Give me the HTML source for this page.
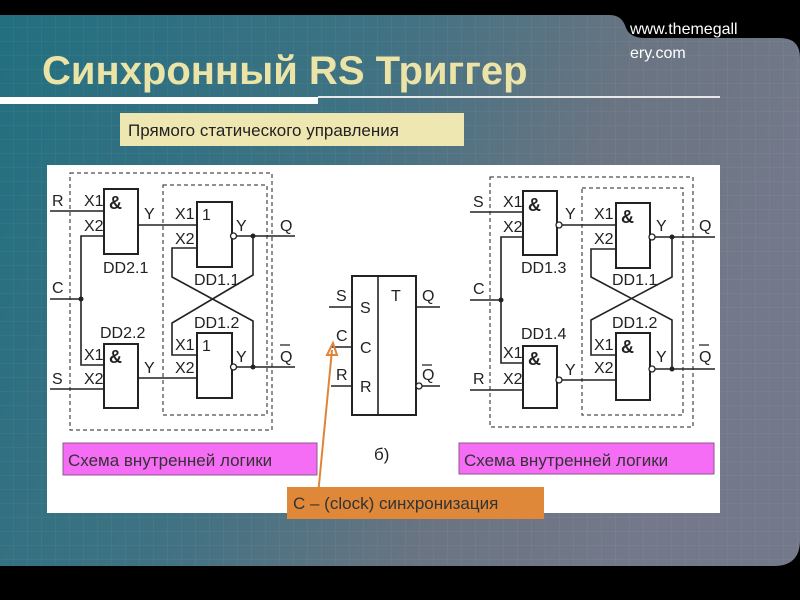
<!DOCTYPE html>
<html><head><meta charset="utf-8"><style>
html,body{margin:0;padding:0;background:#000;}
svg{display:block}
text{font-family:"Liberation Sans","DejaVu Sans",sans-serif;}
.n{font-family:"Liberation Sans Narrow","Liberation Sans",sans-serif;}
</style></head><body>
<svg width="800" height="600" viewBox="0 0 800 600" xmlns="http://www.w3.org/2000/svg">
<defs>
<linearGradient id="bg" x1="0" y1="0" x2="1" y2="0.3">
<stop offset="0" stop-color="#216f80"/><stop offset="0.45" stop-color="#3f7283"/><stop offset="0.75" stop-color="#6a7482"/><stop offset="1" stop-color="#73798a"/>
</linearGradient>
<pattern id="grid" width="14" height="14" patternUnits="userSpaceOnUse">
<path d="M14 0V14H0" fill="none" stroke="#ffffff" stroke-opacity="0.08" stroke-width="1"/>
</pattern>
</defs>
<rect width="800" height="600" fill="#000"/>
<path d="M0 15 H610 Q622 15 626 28 Q630 38 645 38 H780 Q800 38 800 58 V540 Q800 566 774 566 H0 Z" fill="url(#bg)"/>
<path d="M0 15 H610 Q622 15 626 28 Q630 38 645 38 H780 Q800 38 800 58 V540 Q800 566 774 566 H0 Z" fill="url(#grid)"/>
<text x="630" y="34" font-size="16" fill="#fff" class="n">www.themegall</text>
<text x="630" y="58" font-size="16" fill="#fff" class="n">ery.com</text>
<text x="42" y="84" font-size="40" font-weight="bold" fill="#ece4a6">Синхронный RS Триггер</text>
<rect x="0" y="97" width="318" height="7" fill="#fff"/>
<rect x="318" y="96" width="402" height="2" fill="#e8e8e8"/>
<rect x="120" y="113" width="344" height="33" fill="#efe7b2"/>
<text x="128" y="136" font-size="17" fill="#222">Прямого  статического управления</text>
<rect x="47" y="165" width="673" height="348" fill="#fff"/>

<g stroke="#222" fill="none" stroke-width="1.6">
<rect x="70" y="173" width="202" height="257" stroke-dasharray="4 3" stroke-width="1"/>
<rect x="163" y="185" width="104" height="230" stroke-dasharray="4 3" stroke-width="1"/>
<rect x="104" y="189" width="34" height="65" stroke-width="2"/>
<rect x="104" y="344" width="34" height="64" stroke-width="2"/>
<rect x="197" y="202" width="35" height="65" stroke-width="2"/>
<rect x="197" y="333" width="35" height="65" stroke-width="2"/>
<path d="M50 211H104M104 236H81V365H104M50 299H81M50 389H104M138 225H197M138 378H197"/>
<path d="M235 236H295M235 367H295M197 248H172V277L253 321V367M253 236V275L172 323V355H197"/>
<rect x="490" y="177" width="203" height="250" stroke-dasharray="4 3" stroke-width="1"/>
<rect x="582" y="188" width="101" height="227" stroke-dasharray="4 3" stroke-width="1"/>
<rect x="523" y="191" width="34" height="64" stroke-width="2"/>
<rect x="523" y="346" width="34" height="62" stroke-width="2"/>
<rect x="616" y="203" width="34" height="65" stroke-width="2"/>
<rect x="616" y="333" width="34" height="67" stroke-width="2"/>
<path d="M470 212H523M523 237H501V363H523M470 300H501M470 390H523M560 225H616M560 380H616"/>
<path d="M653 237H715M653 369H715M616 249H591V277L672 320V369M672 237V277L591 320V355H616"/>
<rect x="352" y="276" width="64" height="139" stroke-width="2"/>
<path d="M378 276V415M329 307H352M331 347H352M331 386H352M416 307H440M422 386H440"/>
</g>
<g fill="#fff" stroke="#222" stroke-width="1.3">
<circle cx="233.5" cy="236" r="3"/><circle cx="233.5" cy="367" r="3"/>
<circle cx="559" cy="225" r="3"/><circle cx="559" cy="380" r="3"/>
<circle cx="652" cy="237" r="3"/><circle cx="652" cy="369" r="3"/>
<circle cx="419" cy="386" r="3"/>
</g>
<g fill="#222">
<circle cx="81" cy="299" r="2.5"/><circle cx="253" cy="236" r="2.5"/><circle cx="253" cy="367" r="2.5"/>
<circle cx="501" cy="300" r="2.5"/><circle cx="672" cy="237" r="2.5"/><circle cx="672" cy="369" r="2.5"/>
</g>
<g font-size="16" fill="#222" class="n">
<text x="52" y="206" class="n">R</text><text x="84" y="206" class="n">X1</text><text x="84" y="231" class="n">X2</text><text x="109" y="209" font-size="18" font-weight="bold">&amp;</text>
<text x="144" y="219" class="n">Y</text><text x="175" y="219" class="n">X1</text><text x="175" y="244" class="n">X2</text><text x="202" y="220" class="n">1</text>
<text x="236" y="231" class="n">Y</text><text x="280" y="231" class="n">Q</text>
<text x="103" y="273" class="n">DD2.1</text><text x="52" y="293" class="n">C</text><text x="194" y="285" class="n">DD1.1</text>
<text x="194" y="328" class="n">DD1.2</text><text x="100" y="338" class="n">DD2.2</text>
<text x="84" y="360" class="n">X1</text><text x="84" y="384" class="n">X2</text><text x="109" y="363" font-size="18" font-weight="bold">&amp;</text>
<text x="52" y="384" class="n">S</text><text x="144" y="373" class="n">Y</text><text x="175" y="350" class="n">X1</text><text x="175" y="373" class="n">X2</text>
<text x="202" y="351" class="n">1</text><text x="236" y="362" class="n">Y</text><text x="280" y="362" class="n">Q</text>
<text x="473" y="207" class="n">S</text><text x="503" y="207" class="n">X1</text><text x="503" y="232" class="n">X2</text><text x="528" y="211" font-size="18" font-weight="bold">&amp;</text>
<text x="565" y="219" class="n">Y</text><text x="594" y="219" class="n">X1</text><text x="594" y="244" class="n">X2</text><text x="621" y="223" font-size="18" font-weight="bold">&amp;</text>
<text x="656" y="231" class="n">Y</text><text x="699" y="231" class="n">Q</text>
<text x="521" y="273" class="n">DD1.3</text><text x="473" y="294" class="n">C</text><text x="612" y="285" class="n">DD1.1</text>
<text x="612" y="328" class="n">DD1.2</text><text x="521" y="339" class="n">DD1.4</text>
<text x="503" y="358" class="n">X1</text><text x="503" y="384" class="n">X2</text><text x="528" y="365" font-size="18" font-weight="bold">&amp;</text>
<text x="473" y="384" class="n">R</text><text x="565" y="375" class="n">Y</text><text x="594" y="350" class="n">X1</text><text x="594" y="373" class="n">X2</text>
<text x="621" y="353" font-size="18" font-weight="bold">&amp;</text><text x="656" y="362" class="n">Y</text><text x="699" y="362" class="n">Q</text>
<text x="336" y="301" class="n">S</text><text x="360" y="313" class="n">S</text><text x="391" y="301" class="n">T</text><text x="422" y="301" class="n">Q</text>
<text x="336" y="341" class="n">C</text><text x="360" y="353" class="n">C</text><text x="336" y="380" class="n">R</text><text x="360" y="392" class="n">R</text>
<text x="422" y="380" class="n">Q</text>
<text x="374" y="460" font-size="17" class="n">б)</text>
</g>
<g stroke="#222" stroke-width="1.2">
<path d="M280 345H290M699 345H709M422 365H432"/>
</g>
<rect x="63" y="443" width="254" height="32" fill="#f56cf5" stroke="#8a5a8a"/>
<text x="68" y="466" font-size="17" fill="#333">Схема внутренней логики</text>
<rect x="459" y="443" width="255" height="31" fill="#f56cf5" stroke="#8a5a8a"/>
<text x="464" y="466" font-size="17" fill="#333">Схема внутренней логики</text>
<path d="M318 495L332 350" stroke="#e0843a" stroke-width="2"/>
<path d="M333 343L327 355L337 355Z" fill="none" stroke="#e0843a" stroke-width="2"/>
<rect x="287" y="487" width="257" height="32" fill="#e0883a"/>
<text x="293" y="509" font-size="17" fill="#333">C – (clock) синхронизация</text>
</svg>
</body></html>
